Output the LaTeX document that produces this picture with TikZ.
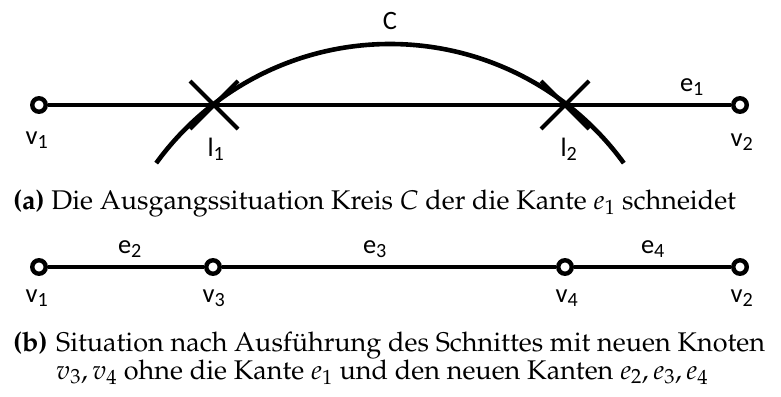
\documentclass[tikz,border=0pt]{standalone}
\usepackage{fontspec}
\usepackage{mathpazo}
\usepackage[T1]{fontenc}
\newfontfamily\labfont{Carlito}
\usetikzlibrary{shapes.misc}
\tikzset{
  vert/.style={circle,draw,fill=white,line width=4.4pt,inner sep=0pt,minimum size=13.5pt},
  cutmark/.style={cross out,draw,line width=4pt,inner sep=0pt,minimum size=44pt},
  edgeline/.style={line width=4.6pt},
  lab/.style={inner sep=0pt,font=\labfont\fontsize{26.5}{30}\selectfont},
  capt/.style={inner sep=0pt,anchor=base west,font=\fontsize{27}{32}\selectfont}
}
\begin{document}
\begin{tikzpicture}[x=1pt,y=-1pt]
\useasboundingbox (0,0) rectangle (781,396);
% top figure
\node[cutmark] (I1) at (214,105) {};
\node[cutmark] (I2) at (565,105) {};
\node[vert] (A1) at (39,105) {};
\node[vert] (A2) at (740,105) {};
\draw[edgeline] (A1) -- (A2);
\coordinate (Cc) at (390,333);
\draw[edgeline] (Cc) ++(144:289pt) arc[start angle=144,end angle=36,radius=289pt];
\node[lab] (Clab) at (390,21) {C};
\node[lab] (la1) at (37,140) {v\textsubscript{1}};
\node[lab] (la2) at (742,142) {v\textsubscript{2}};
\node[lab] (lI1) at (216,149) {l\textsubscript{1}};
\node[lab] (lI2) at (569,149) {l\textsubscript{2}};
\node[lab] (le1) at (692,87) {e\textsubscript{1}};
\node[capt] (capa) at (13,209) {\textbf{(a)} Die Ausgangssituation Kreis $C$ der die Kante $e_1$ schneidet};
% bottom figure
\node[vert] (B1) at (39,267) {};
\node[vert] (B3) at (213,267) {};
\node[vert] (B4) at (565,267) {};
\node[vert] (B2) at (740,267) {};
\draw[edgeline] (B1) -- (B3) -- (B4) -- (B2);
\node[lab] (le2) at (130,249) {e\textsubscript{2}};
\node[lab] (le3) at (375,249) {e\textsubscript{3}};
\node[lab] (le4) at (653,249) {e\textsubscript{4}};
\node[lab] (lb1) at (37,298) {v\textsubscript{1}};
\node[lab] (lb3) at (214,298) {v\textsubscript{3}};
\node[lab] (lb4) at (567,298) {v\textsubscript{4}};
\node[lab] (lb2) at (742,298) {v\textsubscript{2}};
\node[capt] (capb) at (13,351) {\textbf{(b)}\hspace*{8pt}};
\node[capt] (capb1) at (capb.base east) {Situation nach Ausf\"uhrung des Schnittes mit neuen Knoten};
\node[capt,yshift=-28pt] (capb2) at (capb1.base west) {$v_3, v_4$ ohne die Kante $e_1$ und den neuen Kanten $e_2, e_3, e_4$};
\end{tikzpicture}
\end{document}
